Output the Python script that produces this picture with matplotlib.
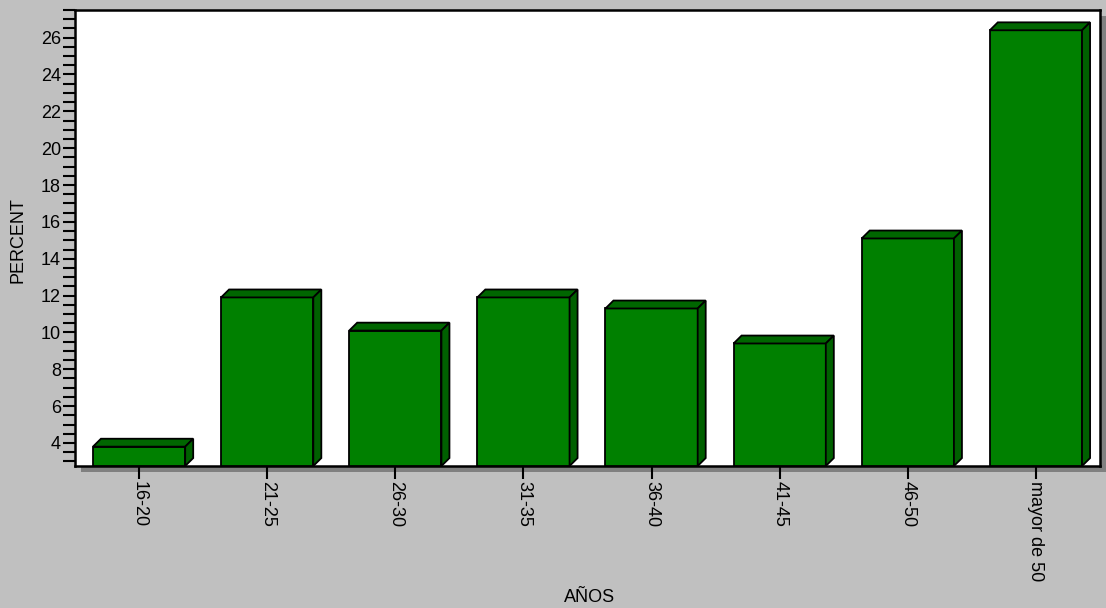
import matplotlib.pyplot as plt
from matplotlib.patches import Rectangle, Polygon
from matplotlib.ticker import MultipleLocator

plt.rcParams['font.family'] = ['Liberation Sans', 'DejaVu Sans']

# age groups and percentages
groups = ["16-20", "21-25", "26-30", "31-35", "36-40", "41-45", "46-50", "mayor de 50"]
percent = [3.8, 11.9, 10.1, 11.9, 11.3, 9.4, 15.1, 26.4]

fig = plt.figure(figsize=(11.06, 6.08), dpi=100, facecolor="#c0c0c0")
left, bottom, width, height = 75 / 1106, 142 / 608, 1025 / 1106, 456 / 608

# drop shadow behind the plot box
fig.patches.append(Rectangle((left + 6 / 1106, bottom - 6 / 608), width, height,
                             transform=fig.transFigure, facecolor="#808080",
                             edgecolor="none", zorder=-1))

ax = fig.add_axes([left, bottom, width, height])
ax.set_facecolor("white")
ymin, ymax = 2.75, 27.5
ax.set_xlim(-0.5, 7.5)
ax.set_ylim(ymin, ymax)

bw = 0.72
dx = 0.0625
dy = 0.43
front = "#008000"
top = "#006600"
side = "#006000"
for i, v in enumerate(percent):
    x0 = i - bw / 2
    x1 = i + bw / 2
    ax.add_patch(Rectangle((x0, ymin), bw, v - ymin, facecolor=front,
                           edgecolor="black", lw=1.3, zorder=3))
    ax.add_patch(Polygon([(x0, v), (x0 + dx, v + dy), (x1 + dx, v + dy), (x1, v)],
                         facecolor=top, edgecolor="black", lw=1.3, zorder=3))
    ax.add_patch(Polygon([(x1, ymin), (x1, v), (x1 + dx, v + dy), (x1 + dx, ymin + dy)],
                         facecolor=side, edgecolor="black", lw=1.3, zorder=3))

ax.set_xticks(range(len(groups)))
ax.set_xticklabels(groups, rotation=-90, fontsize=13)
ax.yaxis.set_major_locator(MultipleLocator(2))
ax.yaxis.set_minor_locator(MultipleLocator(0.5))
ax.set_yticks(range(4, 27, 2))
ax.tick_params(axis="y", which="both", length=9, width=1.5, labelsize=13, pad=1)
ax.tick_params(axis="x", length=9, width=1.5, labelsize=13, pad=2)
for s in ax.spines.values():
    s.set_linewidth(1.8)

fig.text(18 / 1106, 1 - 240 / 608, "PERCENT", rotation=90, ha="center", va="center", fontsize=13)
fig.text(590 / 1106, 1 - 598 / 608, "AÑOS", ha="center", va="center", fontsize=13)

fig.savefig("out.png", dpi=100, facecolor=fig.get_facecolor())
